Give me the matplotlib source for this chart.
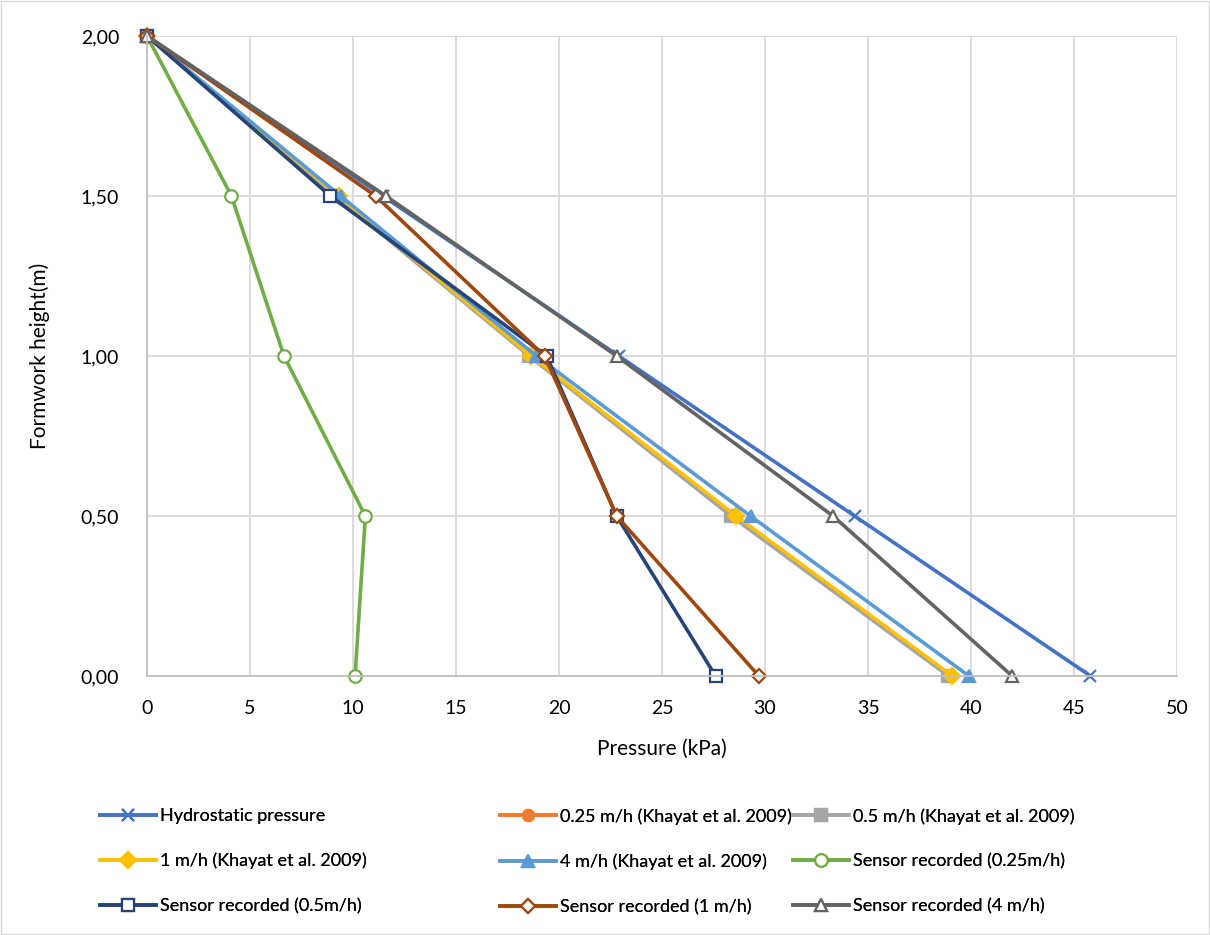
import matplotlib
matplotlib.use("Agg")
import matplotlib.pyplot as plt
from matplotlib.ticker import FuncFormatter

plt.rcParams["font.family"] = ["Lato", "DejaVu Sans"]

# formwork height (m), shared by every series
height = [2.0, 1.5, 1.0, 0.5, 0.0]

# pressure (kPa) per series
hydrostatic = [0.0, 11.45, 22.9, 34.35, 45.8]
khayat_025 = [0.0, 9.2, 18.6, 28.45, 38.95]
khayat_05 = [0.0, 9.15, 18.55, 28.35, 38.9]
khayat_1 = [0.0, 9.3, 18.65, 28.6, 39.1]
khayat_4 = [0.0, 9.4, 18.9, 29.3, 39.9]
sensor_025 = [0.0, 4.1, 6.65, 10.6, 10.1]
sensor_05 = [0.0, 8.9, 19.4, 22.8, 27.6]
sensor_1 = [0.0, 11.1, 19.3, 22.8, 29.7]
sensor_4 = [0.0, 11.6, 22.8, 33.3, 42.0]

labels = [
    "Hydrostatic pressure",
    "0.25 m/h (Khayat et al. 2009)",
    "0.5 m/h (Khayat et al. 2009)",
    "1 m/h (Khayat et al. 2009)",
    "4 m/h (Khayat et al. 2009)",
    "Sensor recorded (0.25m/h)",
    "Sensor recorded (0.5m/h)",
    "Sensor recorded (1 m/h)",
    "Sensor recorded (4 m/h)",
]
series = [hydrostatic, khayat_025, khayat_05, khayat_1, khayat_4,
          sensor_025, sensor_05, sensor_1, sensor_4]
colors = ["#4472C4", "#ED7D31", "#A5A5A5", "#FFC000", "#5B9BD5",
          "#70AD47", "#264478", "#9E480E", "#636363"]
markers = ["x", "o", "s", "D", "^", "o", "s", "D", "^"]
filled = [True, True, True, True, True, False, False, False, False]
msizes = [9, 8, 8, 8, 9, 9, 9, 7, 9]

fig = plt.figure(figsize=(12.1, 9.35), dpi=100)
ax = fig.add_axes([147 / 1210, 1 - 676 / 935, 1030 / 1210, 640 / 935])

handles = []
for vals, lab, c, m, f, ms in zip(series, labels, colors, markers, filled, msizes):
    h, = ax.plot(
        vals, height, color=c, lw=2.6, marker=m, markersize=ms,
        markerfacecolor=c if f else "white", markeredgecolor=c,
        markeredgewidth=1.6, label=lab, clip_on=False
    )
    handles.append(h)

ax.set_xlim(0, 50)
ax.set_ylim(0, 2)
ax.set_xticks(range(0, 51, 5))
ax.set_yticks([0, 0.5, 1.0, 1.5, 2.0])
ax.yaxis.set_major_formatter(FuncFormatter(lambda v, p: f"{v:.2f}".replace(".", ",")))
ax.grid(True, color="#D9D9D9", lw=1.3)
ax.set_axisbelow(True)
for s in ["top", "right"]:
    ax.spines[s].set_visible(False)
for s in ["left", "bottom"]:
    ax.spines[s].set_color("#BFBFBF")
    ax.spines[s].set_linewidth(1.3)
ax.tick_params(axis="x", length=0, labelsize=14, pad=17)
ax.tick_params(axis="y", length=0, labelsize=14, pad=20)

ax.set_xlabel("Pressure (kPa)", fontsize=15, labelpad=16)
ax.set_ylabel("Formwork height(m)", fontsize=15, labelpad=22)

# legend laid out row by row, one legend per column
col_x = [100, 500, 793]
for col in range(3):
    leg = fig.legend(
        handles=handles[col::3], labels=labels[col::3],
        loc="upper left", bbox_to_anchor=(col_x[col] / 1210, 1 - 808 / 935),
        borderaxespad=0, borderpad=0, frameon=False, fontsize=13,
        handlelength=3.1, handletextpad=0.2, labelspacing=1.6
    )
    fig.add_artist(leg)

fig.patches.append(plt.Rectangle((0.001, 0.001), 0.998, 0.998, transform=fig.transFigure,
                                 fill=False, edgecolor="#D9D9D9", lw=1))

fig.savefig("out.png", dpi=100)
